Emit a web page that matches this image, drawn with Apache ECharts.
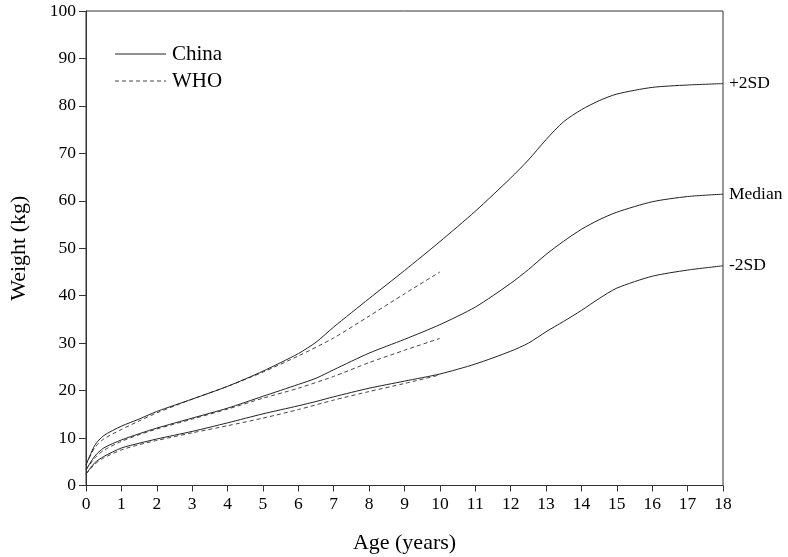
<!DOCTYPE html>
<html>
<head>
<meta charset="utf-8">
<script src="https://cdn.jsdelivr.net/npm/echarts@6/dist/echarts.min.js"></script>
<style>html,body{margin:0;padding:0;background:#fff}#c{width:788px;height:557px}</style>
</head>
<body>
<div id="c"></div>
<script>
// Ages (years) and weights (kg)
const chinaAges = [0, 0.25, 0.5, 1, 1.5, 2, 3, 4, 5, 6, 6.5, 7, 8, 9, 10, 11, 12, 12.5, 13, 13.5, 14, 14.5, 15, 16, 17, 18];
const chinaPlus2SD = [4.3, 8.5, 10.5, 12.5, 14.0, 15.6, 18.2, 20.9, 24.1, 27.8, 30.2, 33.4, 39.4, 45.3, 51.4, 57.8, 64.8, 68.6, 72.9, 76.7, 79.2, 81.1, 82.5, 83.9, 84.4, 84.7];
const chinaMedian   = [3.3, 6.2, 7.9, 9.6, 10.9, 12.1, 14.2, 16.3, 18.8, 21.3, 22.6, 24.4, 27.9, 30.8, 33.9, 37.6, 42.6, 45.5, 48.7, 51.5, 54.0, 56.0, 57.6, 59.8, 60.9, 61.4];
const chinaMinus2SD = [2.4, 4.8, 6.1, 7.9, 8.9, 9.8, 11.4, 13.2, 15.1, 16.8, 17.7, 18.7, 20.5, 22.0, 23.5, 25.6, 28.3, 30.0, 32.4, 34.6, 36.9, 39.4, 41.6, 44.1, 45.4, 46.3];

const whoAges = [0, 0.25, 0.5, 1, 1.5, 2, 3, 4, 5, 6, 7, 8, 9, 10];
const whoPlus2SD = [4.4, 8.0, 9.8, 11.8, 13.6, 15.3, 18.2, 20.9, 23.9, 27.3, 31.1, 35.7, 40.4, 45.0];
const whoMedian   = [3.3, 5.8, 7.4, 9.3, 10.7, 11.9, 14.0, 16.1, 18.4, 20.5, 23.0, 25.9, 28.5, 31.0];
const whoMinus2SD = [2.4, 4.5, 5.8, 7.5, 8.6, 9.5, 11.1, 12.6, 14.2, 16.0, 18.0, 19.8, 21.5, 23.3];

const curveLabels = ['+2SD', 'Median', '-2SD'];
const legendNames = ['China', 'WHO'];

const zip = (xs, ys) => xs.map((x, i) => [x, ys[i]]);
const font = 'Liberation Serif, Times New Roman, serif';
const lineColor = '#222';
const dash = [4, 3];

function chinaSeries(vals, label) {
  return {
    name: 'China', type: 'line', data: zip(chinaAges, vals), smooth: 0.25,
    showSymbol: false, symbol: 'none',
    lineStyle: { color: lineColor, width: 1, type: 'solid' },
    itemStyle: { color: lineColor },
    endLabel: { show: true, formatter: label, color: '#000', fontFamily: font, fontSize: 17.5, distance: 6 },
    emphasis: { disabled: true }, z: 3
  };
}
function whoSeries(vals) {
  return {
    name: 'WHO', type: 'line', data: zip(whoAges, vals), smooth: 0.25,
    showSymbol: false, symbol: 'none',
    lineStyle: { color: '#444', width: 1, type: dash },
    itemStyle: { color: '#444' },
    emphasis: { disabled: true }, z: 2
  };
}

const chart = echarts.init(document.getElementById('c'), null, { renderer: 'canvas' });
chart.setOption({
  animation: false,
  backgroundColor: '#fff',
  grid: { left: 86, right: 65, top: 11, bottom: 71.5, outerBoundsMode: 'none', containLabel: false,
          show: true, borderColor: '#333', borderWidth: 1, backgroundColor: 'transparent' },
  graphic: [
    { type: 'line', shape: { x1: 115, y1: 54, x2: 166, y2: 54 }, style: { stroke: lineColor, lineWidth: 1 } },
    { type: 'text', x: 172, y: 54, style: { text: legendNames[0], font: '21px ' + font, fill: '#000', verticalAlign: 'middle' } },
    { type: 'line', shape: { x1: 115, y1: 81, x2: 166, y2: 81 }, style: { stroke: '#444', lineWidth: 1, lineDash: dash } },
    { type: 'text', x: 172, y: 81, style: { text: legendNames[1], font: '21px ' + font, fill: '#000', verticalAlign: 'middle' } }
  ],
  xAxis: {
    type: 'value', min: 0, max: 18, interval: 1,
    name: 'Age (years)', nameLocation: 'middle', nameGap: 47,
    nameTextStyle: { fontFamily: font, fontSize: 22, color: '#000' },
    axisLine: { show: true, lineStyle: { color: '#333', width: 1 } },
    axisTick: { show: true, inside: false, length: 6, lineStyle: { color: '#333' } },
    axisLabel: { fontFamily: font, fontSize: 17.5, color: '#000', margin: 10 },
    splitLine: { show: false }
  },
  yAxis: {
    type: 'value', min: 0, max: 100, interval: 10,
    name: 'Weight (kg)', nameLocation: 'middle', nameGap: 56, nameRotate: 90,
    nameTextStyle: { fontFamily: font, fontSize: 22, color: '#000' },
    axisLine: { show: true, lineStyle: { color: '#333', width: 1 } },
    axisTick: { show: true, inside: false, length: 7, lineStyle: { color: '#333' } },
    axisLabel: { fontFamily: font, fontSize: 17.5, color: '#000', margin: 10 },
    splitLine: { show: false }
  },
  series: [
    chinaSeries(chinaPlus2SD, curveLabels[0]),
    chinaSeries(chinaMedian, curveLabels[1]),
    chinaSeries(chinaMinus2SD, curveLabels[2]),
    whoSeries(whoPlus2SD),
    whoSeries(whoMedian),
    whoSeries(whoMinus2SD)
  ]
});
</script>
</body>
</html>
